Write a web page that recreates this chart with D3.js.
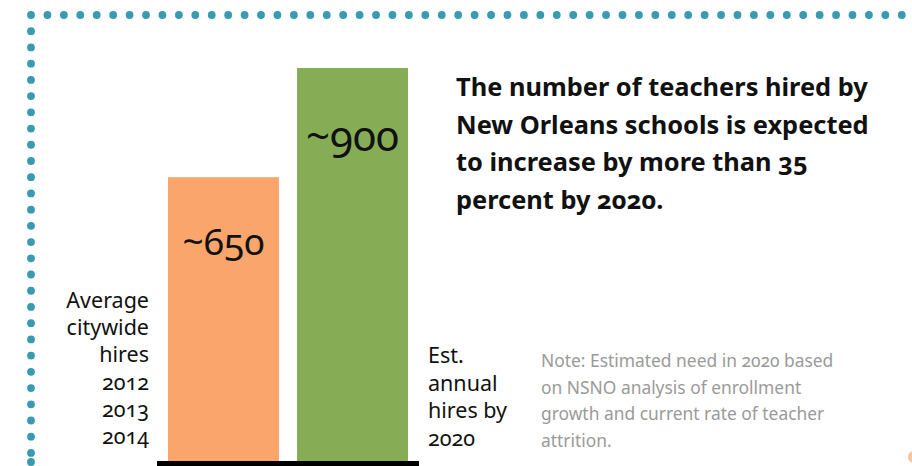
<!DOCTYPE html>
<html>
<head>
<meta charset="utf-8">
<script src="https://cdn.jsdelivr.net/npm/d3@7"></script>
<style>
  body { margin: 0; background: #fff; }
  svg { display: block; font-family: "Noto Sans", sans-serif; font-variant-numeric: oldstyle-nums; }
</style>
</head>
<body>
<div id="container"></div>
<script>
const width = 912;
const height = 466;

// chart data
const categories = ["2012-2014 average", "2020 estimate"];
const hires = [650, 900];
const valueLabels = ["~650", "~900"];
const barColours = ["#f9a56b", "#86ad55"];

// text blocks
const leftLabel = ["Average", "citywide", "hires", "2012", "2013", "2014"];
const rightLabel = ["Est.", "annual", "hires by", "2020"];
const headline = [
  "The number of teachers hired by",
  "New Orleans schools is expected",
  "to increase by more than 35",
  "percent by 2020.",
];
const note = [
  "Note: Estimated need in 2020 based",
  "on NSNO analysis of enrollment",
  "growth and current rate of teacher",
  "attrition.",
];

const svg = d3
  .select("#container")
  .append("svg")
  .attr("width", width)
  .attr("height", height);

// dotted frame, top and left
const dotColour = "#389cb1";
const topDots = d3.range(31, 905, 16.43);
const leftDots = d3.range(15, 456, 16.22).concat([462]);

svg
  .append("g")
  .selectAll("circle")
  .data(topDots)
  .enter()
  .append("circle")
  .attr("cx", (d) => d)
  .attr("cy", 15)
  .attr("r", 3.9)
  .attr("fill", dotColour);

svg
  .append("g")
  .selectAll("circle")
  .data(leftDots.slice(1))
  .enter()
  .append("circle")
  .attr("cx", 31)
  .attr("cy", (d) => d)
  .attr("r", 3.9)
  .attr("fill", dotColour);

// small orange dot bottom right
svg.append("circle").attr("cx", 914).attr("cy", 457).attr("r", 6).attr("fill", "#fbc39a");

// scales
const xScale = d3
  .scaleBand()
  .domain(categories)
  .range([157, 419])
  .paddingInner(0.14)
  .paddingOuter(0.085);

const yScale = d3.scaleLinear().domain([0, 900]).range([461, 68]);

// bars
svg
  .selectAll("rect.bar")
  .data(categories)
  .enter()
  .append("rect")
  .attr("class", "bar")
  .attr("x", (d) => xScale(d))
  .attr("y", (d, i) => yScale(hires[i]))
  .attr("width", xScale.bandwidth())
  .attr("height", (d, i) => yScale(0) - yScale(hires[i]))
  .attr("fill", (d, i) => barColours[i]);

// value labels
const labelSizes = [37, 42];
const labelOffsets = [78, 83];
svg
  .selectAll("text.value")
  .data(categories)
  .enter()
  .append("text")
  .attr("class", "value")
  .attr("x", (d) => xScale(d) + xScale.bandwidth() / 2)
  .attr("y", (d, i) => yScale(hires[i]) + labelOffsets[i])
  .attr("text-anchor", "middle")
  .style("font-size", (d, i) => labelSizes[i] + "px")
  .attr("fill", "#111")
  .text((d, i) => valueLabels[i]);

// baseline
svg
  .append("rect")
  .attr("x", xScale.range()[0])
  .attr("y", yScale(0))
  .attr("width", xScale.range()[1] - xScale.range()[0])
  .attr("height", 6)
  .attr("fill", "#000");

// side labels
svg
  .append("text")
  .attr("text-anchor", "end")
  .style("font-size", "21.5px")
  .attr("fill", "#111")
  .selectAll("tspan")
  .data(leftLabel)
  .enter()
  .append("tspan")
  .attr("x", 149)
  .attr("y", (d, i) => 308 + i * 27.2)
  .text((d) => d);

svg
  .append("text")
  .style("font-size", "21.5px")
  .attr("fill", "#111")
  .selectAll("tspan")
  .data(rightLabel)
  .enter()
  .append("tspan")
  .attr("x", 428)
  .attr("y", (d, i) => 363 + i * 27.5)
  .text((d) => d);

// headline
svg
  .append("text")
  .style("font-size", "25.4px")
  .style("font-weight", "bold")
  .attr("fill", "#111")
  .selectAll("tspan")
  .data(headline)
  .enter()
  .append("tspan")
  .attr("x", 456)
  .attr("y", (d, i) => 96 + i * 37.5)
  .text((d) => d);

// note
svg
  .append("text")
  .style("font-size", "17.4px")
  .attr("fill", "#9a9a9a")
  .selectAll("tspan")
  .data(note)
  .enter()
  .append("tspan")
  .attr("x", 541)
  .attr("y", (d, i) => 367 + i * 26.5)
  .text((d) => d);
</script>
</body>
</html>
